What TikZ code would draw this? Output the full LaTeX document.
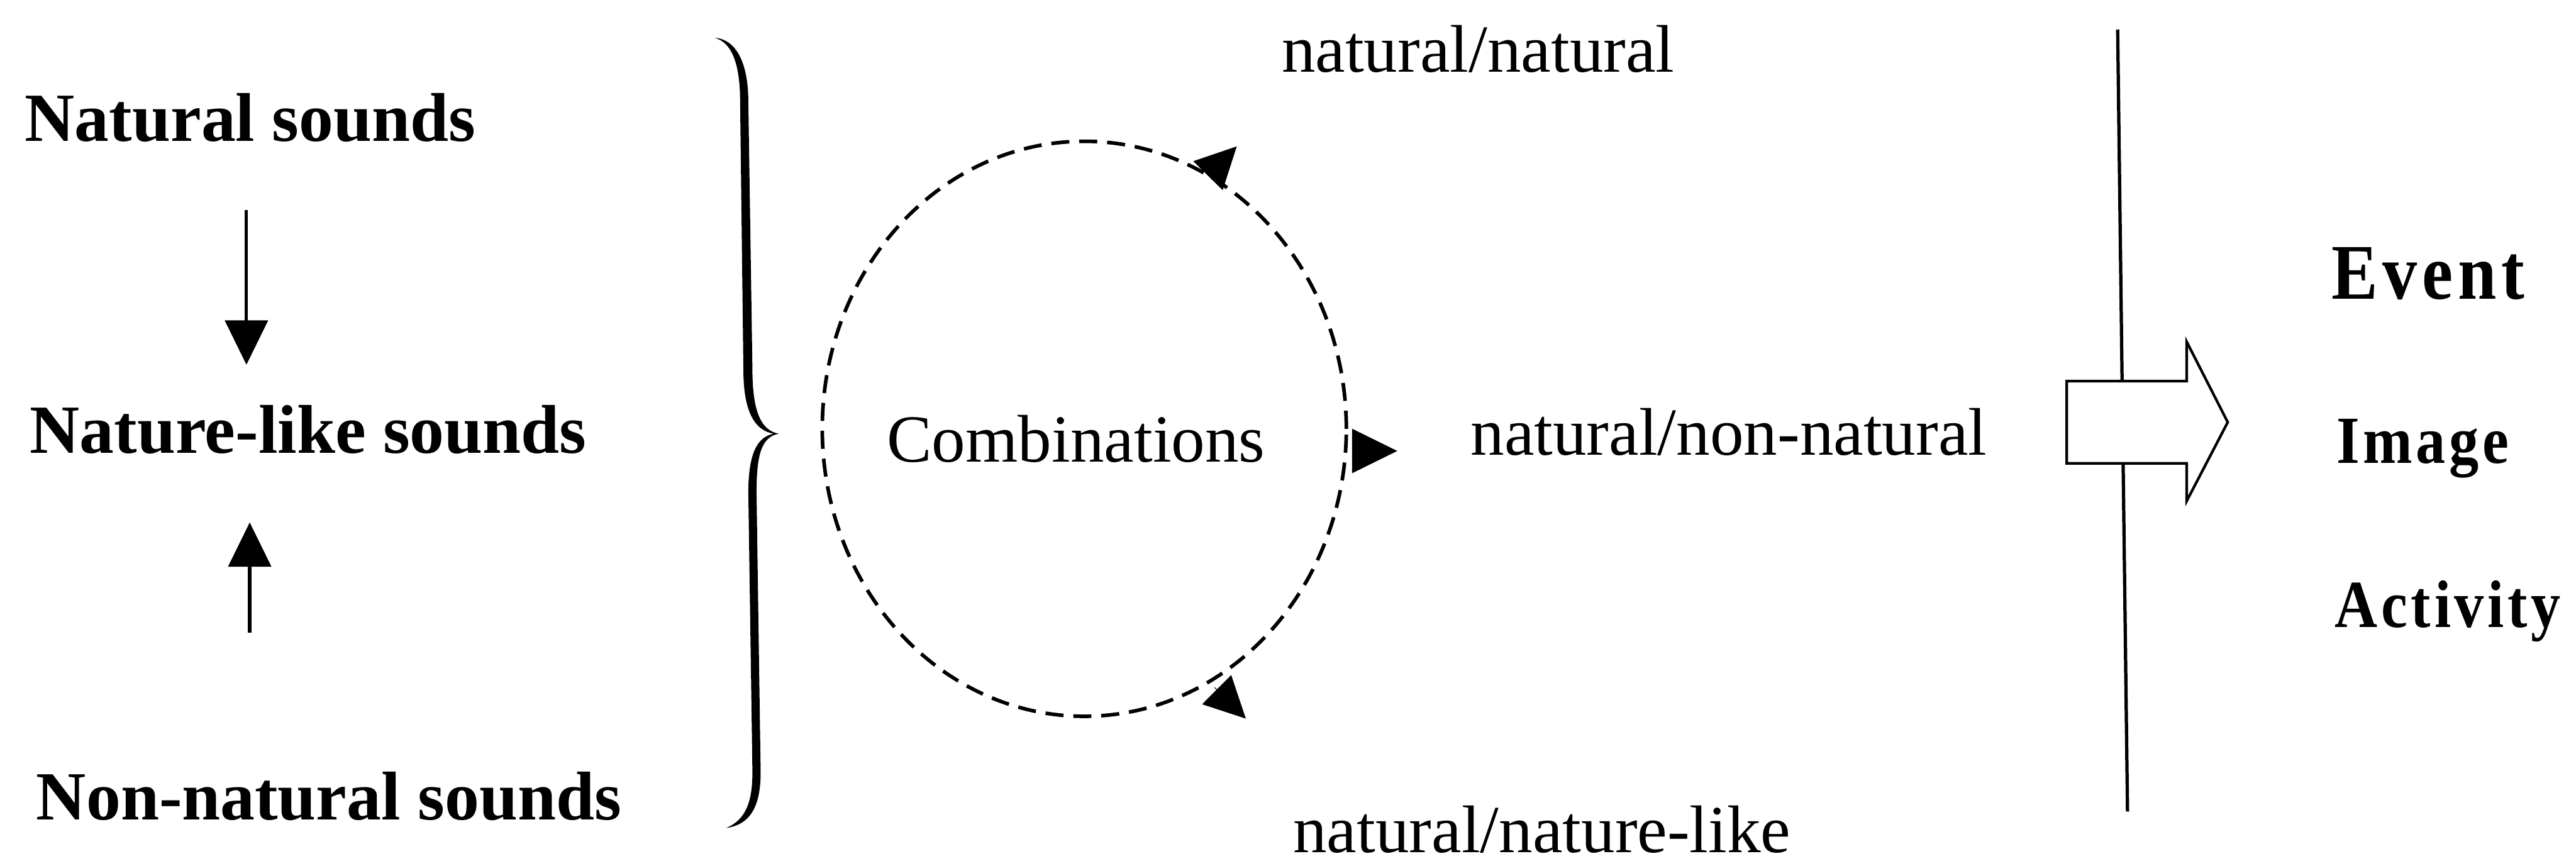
\documentclass[tikz,border=0pt]{standalone}
\usepackage{fontspec}
\usepackage{graphicx}
\setmainfont{Liberation Serif}
\usetikzlibrary{arrows.meta,shapes.geometric}
% letter-spaced word: \spacedword{kern}{letters}
\newcommand\spacedword[2]{\def\spkern{#1}\spacedloop#2\relax}
\def\spacedloop#1#2{#1\ifx#2\relax\else\kern\spkern\expandafter\spacedloop\expandafter#2\fi}
\begin{document}
\begin{tikzpicture}[x=1pt,y=-1pt,
  boldlabel/.style={font=\fontsize{42}{48}\selectfont\bfseries, anchor=base west, inner sep=0pt},
  plainlabel/.style={font=\fontsize{41}{48}\selectfont, anchor=base west, inner sep=0pt},
  outcome/.style={font=\fontsize{41}{48}\selectfont\bfseries, anchor=base west, inner sep=0pt},
  flow/.style={line width=2pt, -{Triangle[length=27pt,width=26pt]}},
  pointer/.style={line width=0.4pt, -{Triangle[length=25pt,width=25pt]}},
  cycleline/.style={line width=2.2pt, dash pattern=on 11pt off 6pt},
  divider/.style={line width=2pt},
  blockarrow/.style={line width=1.6pt, fill=white, line join=miter}]
\useasboundingbox (0,0) rectangle (1568,527);

% sound categories
\node[boldlabel] (nat)  at (15,86)  {Natural sounds};
\node[boldlabel] (like) at (18,276) {Nature-like sounds};
\node[boldlabel] (non)  at (22,499) {Non-natural sounds};

\coordinate (d1) at (150,128);
\coordinate (d2) at (150,222);
\coordinate (u1) at (152,385);
\coordinate (u2) at (152,318);
\draw[flow] (d1) -- (d2);
\draw[flow] (u1) -- (u2);

% curly brace
\fill (435,23) .. controls (449,24) and (455.5,40) .. (455.5,62)
  -- (458,225) .. controls (458,250) and (463,262) .. (474,264)
  .. controls (463,266) and (460.5,278) .. (460.5,300)
  -- (463,470) .. controls (463,492) and (456,502) .. (442,504)
  .. controls (454,499) and (458,488) .. (458,470)
  -- (455.5,300) .. controls (455.5,278) and (460,266) .. (471,264)
  .. controls (459,262) and (452.5,250) .. (452.5,225)
  -- (450.5,62) .. controls (450.5,40) and (446,26) .. (435,23) -- cycle;

% combinations cycle
\node[ellipse, draw, cycleline, minimum width=319pt, minimum height=350pt, inner sep=0pt] (comb) at (660,261) {};
\node[plainlabel, anchor=base] (combtxt) at (655,281) {Combinations};

\coordinate (pt1) at (735.3,106.9);
\coordinate (pt1e) at (752.8,89.1);
\coordinate (pt2) at (823,274.5);
\coordinate (pt2e) at (850.5,274.5);
\coordinate (pt3) at (739.3,418.5);
\coordinate (pt3e) at (758.3,437.4);
\draw[pointer] (pt1) -- (pt1e);
\draw[pointer, -{Triangle[length=27.5pt,width=27pt]}] (pt2) -- (pt2e);
\draw[pointer] (pt3) -- (pt3e);

\node[plainlabel] (nn)  at (780,44)  {natural/natural};
\node[plainlabel] (nnn) at (895,277) {natural/non-natural};
\node[plainlabel] (nnl) at (787,519) {natural/nature-like};

% divider and block arrow
\coordinate (vtop) at (1289,18);
\coordinate (vbot) at (1295,494);
\draw[divider] (vtop) -- (vbot);
\draw[blockarrow] (1258,232) -- (1331,232) -- (1331,208) -- (1356,257)
  -- (1331,305) -- (1331,282) -- (1258,282) -- cycle;

% outcomes
\node[outcome, font=\fontsize{48}{54}\selectfont\bfseries] (ev) at (1419,182)
  {\scalebox{0.88}[1]{\spacedword{3.4pt}{Event}}};
\node[outcome] (im) at (1422,282) {\scalebox{0.88}[1]{\spacedword{2.5pt}{Image}}};
\node[outcome] (ac) at (1421,382) {\scalebox{0.88}[1]{\spacedword{2.5pt}{Activity}}};
\end{tikzpicture}
\end{document}
